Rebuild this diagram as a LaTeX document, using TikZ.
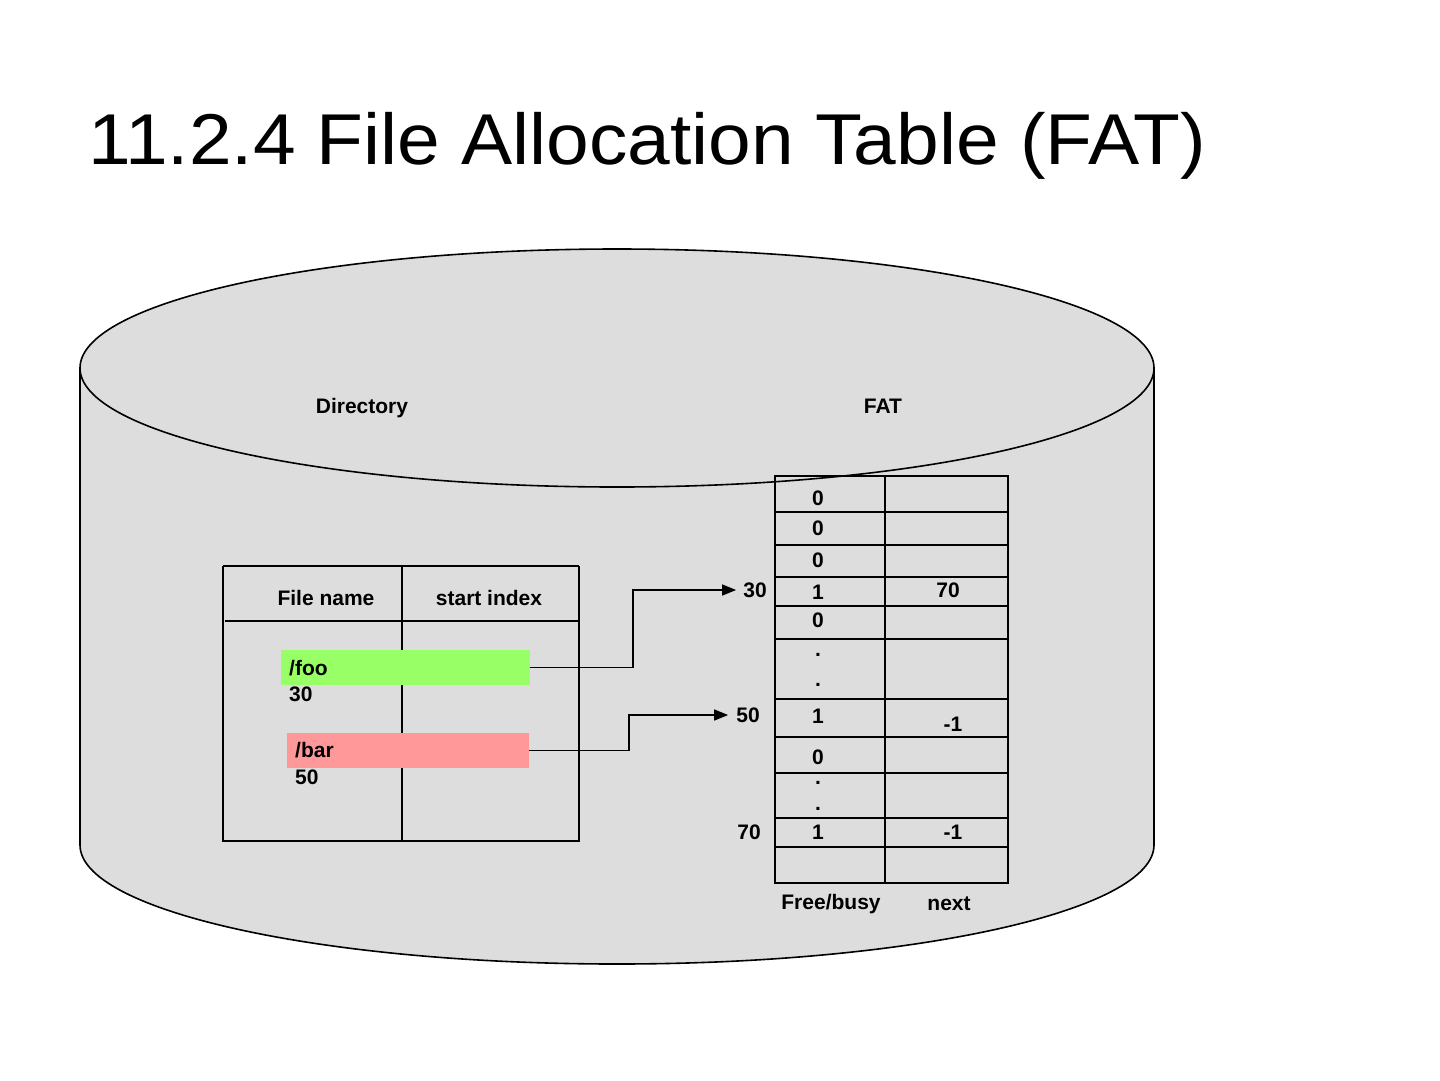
\documentclass[tikz,border=0pt]{standalone}
\usepackage{fontspec}
\setmainfont{Liberation Sans}
\usetikzlibrary{arrows.meta, positioning}
\definecolor{diskgray}{HTML}{DDDDDD}
\definecolor{fooGreen}{HTML}{99FF66}
\definecolor{barRed}{HTML}{FF9999}

\begin{document}
\begin{tikzpicture}[x=1pt,y=-1pt,
	lbl/.style={font=\bfseries\fontsize{21}{21}\selectfont, inner sep=0pt},
	bar/.style={minimum height=35pt, inner sep=0pt},
	link/.style={line width=1.5pt, -{Triangle[length=14pt,width=11pt]}}]
	
	% Page
	\fill[white] (0,0) rectangle (1440,1080);
	\useasboundingbox (0,0) rectangle (1440,1080);
	
	% Title
	\node[anchor=base west, inner sep=0pt] (title) at (88,164)
		{\fontsize{72}{72}\selectfont\scalebox{1.065}[1]{11.2.4 File Allocation Table (FAT)}};
	
	% Disk
	\fill[diskgray] (80,368) -- (80,845) arc[start angle=180, end angle=0, x radius=537, y radius=119] -- (1154,368) -- cycle;
	\draw[line width=1.6pt] (80,368) -- (80,845) arc[start angle=180, end angle=0, x radius=537, y radius=119] -- (1154,368);
	\draw[fill=diskgray, line width=1.6pt] (617,368) ellipse [x radius=537, y radius=119];
	
	\node[lbl] (dirlbl) at (362,408) {Directory};
	\node[lbl] (fatlbl) at (883,406) {FAT};
	
	% Directory table
	\draw[line width=1.5pt] (223,566) -- (579,566);
	\draw[line width=2.4pt] (223,566) -- (223,841) -- (579,841) -- (579,566);
	\draw[line width=1.5pt] (402,566) -- (402,841);
	\draw[line width=2.4pt] (225,621) -- (579,621);
	\node[lbl] (hname) at (326,598) {File name};
	\node[lbl] (hstart) at (489,598) {start index};
	
	% Entries
	\node[bar, fill=fooGreen, minimum width=249pt] (foo) at (405.5,667.5) {};
	\node[lbl, anchor=west] (fooname) at (289,668) {/foo};
	\node[lbl, anchor=west] (foostart) at (289,694) {30};
	\node[bar, fill=barRed, minimum width=242pt] (bar) at (408,750.5) {};
	\node[lbl, anchor=west] (barname) at (295,750) {/bar};
	\node[lbl, anchor=west] (barstart) at (295,777) {50};
	
	% FAT
	\foreach \y in {512,545,577,606,639,699,737,773,818,847} {
		\draw[line width=2.4pt] (775,\y) -- (1008,\y);
	}
	\draw[line width=1.5pt] (775,476) rectangle (1008,883);
	\draw[line width=1.5pt] (885,476) -- (885,883);
	
	\foreach \v/\y [count=\i] in {0/498,0/528,0/560,1/592,0/620,./655,./685,1/716,0/757,./783,./809,1/832} {
		\node[lbl] (fb\i) at (818,\y) {\v};
	}
	\node[lbl] (nx30) at (948,590) {70};
	\node[lbl] (nx50) at (953,724) {-1};
	\node[lbl] (nx70) at (953,832) {-1};
	
	\node[lbl] (ix30) at (755,590) {30};
	\node[lbl] (ix50) at (748,715) {50};
	\node[lbl] (ix70) at (749,832) {70};
	
	\node[lbl] (colfb) at (831,904) {Free/busy};
	\node[lbl] (colnx) at (949,903.5) {next};
	
	% Start pointers
	\draw[link, shorten >=7pt] (foo.east) -- ++(103,0) |- (ix30.west);
	\draw[link, shorten >=8pt] (bar.east) -- ++(100,0) |- (ix50.west);
	
\end{tikzpicture}
\end{document}
